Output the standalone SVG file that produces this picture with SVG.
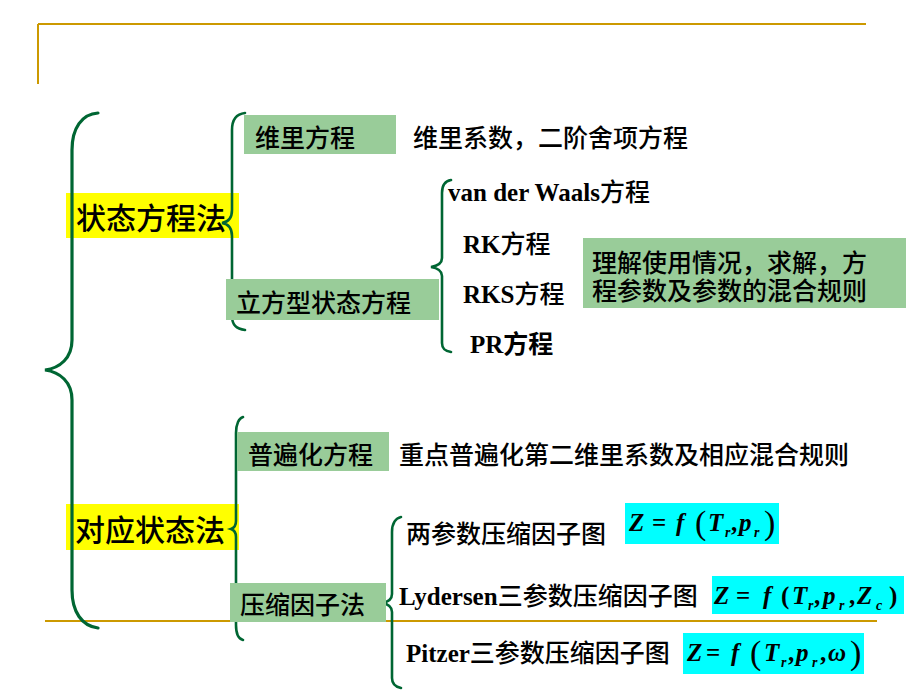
<svg xmlns="http://www.w3.org/2000/svg" width="920" height="690" viewBox="0 0 920 690">
<style>
.gold{stroke:#CC9900;stroke-width:2;fill:none}
.brace{stroke:#006633;stroke-width:2.6;fill:none;stroke-linecap:round}
.big{stroke-width:3.2}
.yel{fill:#FFFF00}
.grn{fill:#99CC99}
.cyn{fill:#00FFFF}
.cj{font-family:"Noto Sans CJK SC","Noto Sans CJK JP",sans-serif;font-weight:500;fill:#000}
.s30{font-size:30px}
.s25{font-size:25px}
.bd{font-weight:bold}
.lat{font-family:"Liberation Serif","Times New Roman",serif;font-weight:bold;font-size:25px}
.fm{font-family:"Liberation Serif","Times New Roman",serif;font-weight:bold;font-style:italic;font-size:25px;fill:#000}
.eq{font-style:normal}
.sub{font-size:14px}
.par{font-style:normal;font-weight:normal;font-size:34px}
.par2{font-style:normal;font-size:25px}
</style>
<g id="frame">
<line class="gold" x1="38" y1="24" x2="866" y2="24"/>
<line class="gold" x1="38" y1="24" x2="38" y2="84" stroke-width="1.5"/>
<line class="gold" x1="45" y1="621" x2="877" y2="621"/>
</g>
<g id="n-state">
<rect class="yel" x="66" y="193" width="173" height="45"/>
<text class="cj s30" x="76" y="229">状态方程法</text>
</g>
<g id="n-corr">
<rect class="yel" x="66" y="504" width="173" height="46"/>
<text class="cj s30" x="75" y="541">对应状态法</text>
</g>
<g id="connectors">
<path class="brace big" d="M98,113 C82,114 72,128 72,150 L72,340 C72,358 60,368 45,370 C60,372 72,382 72,400 L72,590 C72,612 82,626 98,628"/>
<path class="brace" d="M245,113 C236,114 232,120 232,130 L232,210 C232,218 228,222 222,223 C228,224 232,228 232,236 L232,316 C232,325 236,329 245,330"/>
<path class="brace" d="M451,180 C445,181 442,186 442,193 L442,258 C442,264 437,266 431,267 C437,268 442,270 442,276 L442,343 C442,349 445,351 451,352"/>
<path class="brace" d="M243,417 C239,418 236,424 236,433 L236,521 C236,526 234,528 231,529 C234,530 236,532 236,537 L236,625 C236,634 239,639 243,640"/>
<path class="brace" d="M401,517 C396,518 392,523 392,532 L392,594 C392,600 388,602 382,603 C388,604 392,606 392,612 L392,678 C392,684 396,687 401,688"/>
</g>
<g id="n-virial">
<rect class="grn" x="244" y="115" width="152" height="39"/>
<text class="cj s25" x="255" y="146.5">维里方程</text>
</g>
<g id="n-virial-note">
<text class="cj s25" x="413" y="147">维里系数，二阶舍项方程</text>
</g>
<g id="n-cubic">
<rect class="grn" x="226" y="279" width="213" height="41"/>
<text class="cj s25" x="236" y="311.5">立方型状态方程</text>
</g>
<g id="n-vdw">
<text x="448" y="201"><tspan class="lat">van der Waals</tspan><tspan class="cj s25">方程</tspan></text>
</g>
<g id="n-rk">
<text x="463" y="253"><tspan class="lat">RK</tspan><tspan class="cj s25">方程</tspan></text>
</g>
<g id="n-rks">
<text x="463" y="302.5"><tspan class="lat">RKS</tspan><tspan class="cj s25">方程</tspan></text>
</g>
<g id="n-pr">
<text x="470" y="353"><tspan class="lat">PR</tspan><tspan class="cj s25 bd">方程</tspan></text>
</g>
<g id="n-cubic-note">
<rect class="grn" x="583" y="238" width="323" height="70"/>
<text class="cj s25" x="592" y="271.5">理解使用情况，求解，方</text>
<text class="cj s25" x="592" y="300">程参数及参数的混合规则</text>
</g>
<g id="n-general">
<rect class="grn" x="237" y="432" width="152" height="39"/>
<text class="cj s25" x="248" y="463.5">普遍化方程</text>
</g>
<g id="n-general-note">
<text class="cj s25" x="399" y="463.5">重点普遍化第二维里系数及相应混合规则</text>
</g>
<g id="n-zfactor">
<rect class="grn" x="230" y="583" width="156" height="39"/>
<text class="cj s25" x="240" y="613.5">压缩因子法</text>
</g>
<g id="n-two">
<text class="cj s25" x="406" y="542.5">两参数压缩因子图</text>
</g>
<g id="n-two-f">
<rect class="cyn" x="625" y="503" width="154" height="41"/>
<text class="fm" y="531"><tspan x="629">Z</tspan><tspan x="652" class="eq">=</tspan><tspan x="676">f</tspan><tspan x="695" y="534" class="par">(</tspan><tspan x="708" y="531">T</tspan><tspan x="725" y="537" class="sub">r</tspan><tspan x="731" y="531" class="eq">,</tspan><tspan x="739">p</tspan><tspan x="754" y="537" class="sub">r</tspan><tspan x="764" y="534" class="par">)</tspan></text>
</g>
<g id="n-lyd">
<text x="399" y="604.5"><tspan class="lat">Lydersen</tspan><tspan class="cj s25">三参数压缩因子图</tspan></text>
</g>
<g id="n-lyd-f">
<rect class="cyn" x="712" y="576" width="192" height="38"/>
<text class="fm" y="604"><tspan x="714">Z</tspan><tspan x="736" class="eq">=</tspan><tspan x="763">f</tspan><tspan x="781" class="par2">(</tspan><tspan x="792">T</tspan><tspan x="808" y="610" class="sub">r</tspan><tspan x="814" y="604" class="eq">,</tspan><tspan x="823">p</tspan><tspan x="839" y="610" class="sub">r</tspan><tspan x="849" y="604" class="eq">,</tspan><tspan x="857">Z</tspan><tspan x="876" y="610" class="sub">c</tspan><tspan x="889" y="604" class="par2">)</tspan></text>
</g>
<g id="n-pitzer">
<text x="406" y="661.5"><tspan class="lat">Pitzer</tspan><tspan class="cj s25">三参数压缩因子图</tspan></text>
</g>
<g id="n-pitzer-f">
<rect class="cyn" x="683" y="633" width="181" height="41"/>
<text class="fm" y="661"><tspan x="687">Z</tspan><tspan x="706" class="eq">=</tspan><tspan x="731">f</tspan><tspan x="750" y="664" class="par">(</tspan><tspan x="764" y="661">T</tspan><tspan x="781" y="667" class="sub">r</tspan><tspan x="788" y="661" class="eq">,</tspan><tspan x="796">p</tspan><tspan x="812" y="667" class="sub">r</tspan><tspan x="820" y="661" class="eq">,</tspan><tspan x="828">ω</tspan><tspan x="850" y="664" class="par">)</tspan></text>
</g>
</svg>
